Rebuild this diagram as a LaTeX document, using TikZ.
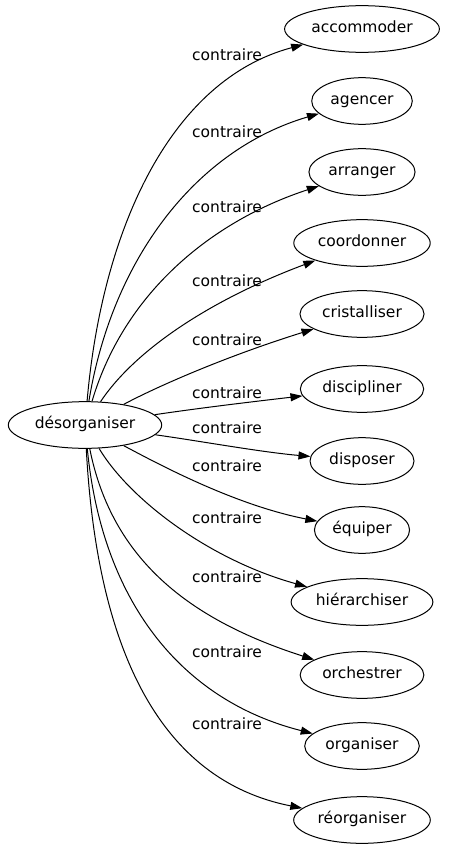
\documentclass[tikz,border=0pt]{standalone}
\usepackage{fontspec}
\setmainfont{DejaVu Sans}
\usetikzlibrary{shapes.geometric,arrows.meta}
\tikzset{
  word/.style={ellipse,draw,line width=1pt,inner xsep=4pt,inner ysep=10pt,
    font=\fontsize{15.5}{18}\selectfont,text height=10pt,text depth=3pt},
  rel/.style={font=\fontsize{15.5}{18}\selectfont,inner sep=0pt},
  edge/.style={draw,line width=1pt,-{Triangle[length=12pt,width=8pt]}}
}
\begin{document}
\begin{tikzpicture}[x=1pt,y=-1pt]
\useasboundingbox (0,0) rectangle (449,851);
\node[word] (L) at (85,425) {désorganiser};
\node[word] (t1) at (362,29) {accommoder};
\node[word] (t2) at (362,101) {agencer};
\node[word] (t3) at (362,172) {arranger};
\node[word] (t4) at (362,243) {coordonner};
\node[word] (t5) at (362,314) {cristalliser};
\node[word] (t6) at (362,389) {discipliner};
\node[word] (t7) at (362,461) {disposer};
\node[word] (t8) at (362,530) {équiper};
\node[word] (t9) at (362,602) {hiérarchiser};
\node[word] (t10) at (362,675) {orchestrer};
\node[word] (t11) at (362,746) {organiser};
\node[word] (t12) at (362,820) {réorganiser};

\node[rel] (l1) at (227,55) {contraire};
\node[rel] (l2) at (227,132) {contraire};
\node[rel] (l3) at (227,207) {contraire};
\node[rel] (l4) at (227,281) {contraire};
\node[rel] (l5) at (227,340) {contraire};
\node[rel] (l6) at (227,393) {contraire};
\node[rel] (l7) at (227,428) {contraire};
\node[rel] (l8) at (227,466) {contraire};
\node[rel] (l9) at (227,518) {contraire};
\node[rel] (l10) at (227,577) {contraire};
\node[rel] (l11) at (227,652) {contraire};
\node[rel] (l12) at (227,724) {contraire};

\path[edge] (L) .. controls (102,230) and (170,80) .. (t1);
\path[edge] (L) .. controls (112,260) and (195,150) .. (t2);
\path[edge] (L) .. controls (125,290) and (215,220) .. (t3);
\path[edge] (L) .. controls (135,350) and (210,300) .. (t4);
\path[edge] (L) .. controls (160,385) and (230,355) .. (t5);
\path[edge] (L) .. controls (200,408) and (250,402) .. (t6);
\path[edge] (L) .. controls (200,441) and (260,452) .. (t7);
\path[edge] (L) .. controls (160,465) and (235,505) .. (t8);
\path[edge] (L) .. controls (130,500) and (210,560) .. (t9);
\path[edge] (L) .. controls (112,560) and (190,620) .. (t10);
\path[edge] (L) .. controls (102,600) and (180,700) .. (t11);
\path[edge] (L) .. controls (97,650) and (160,780) .. (t12);
\end{tikzpicture}
\end{document}
